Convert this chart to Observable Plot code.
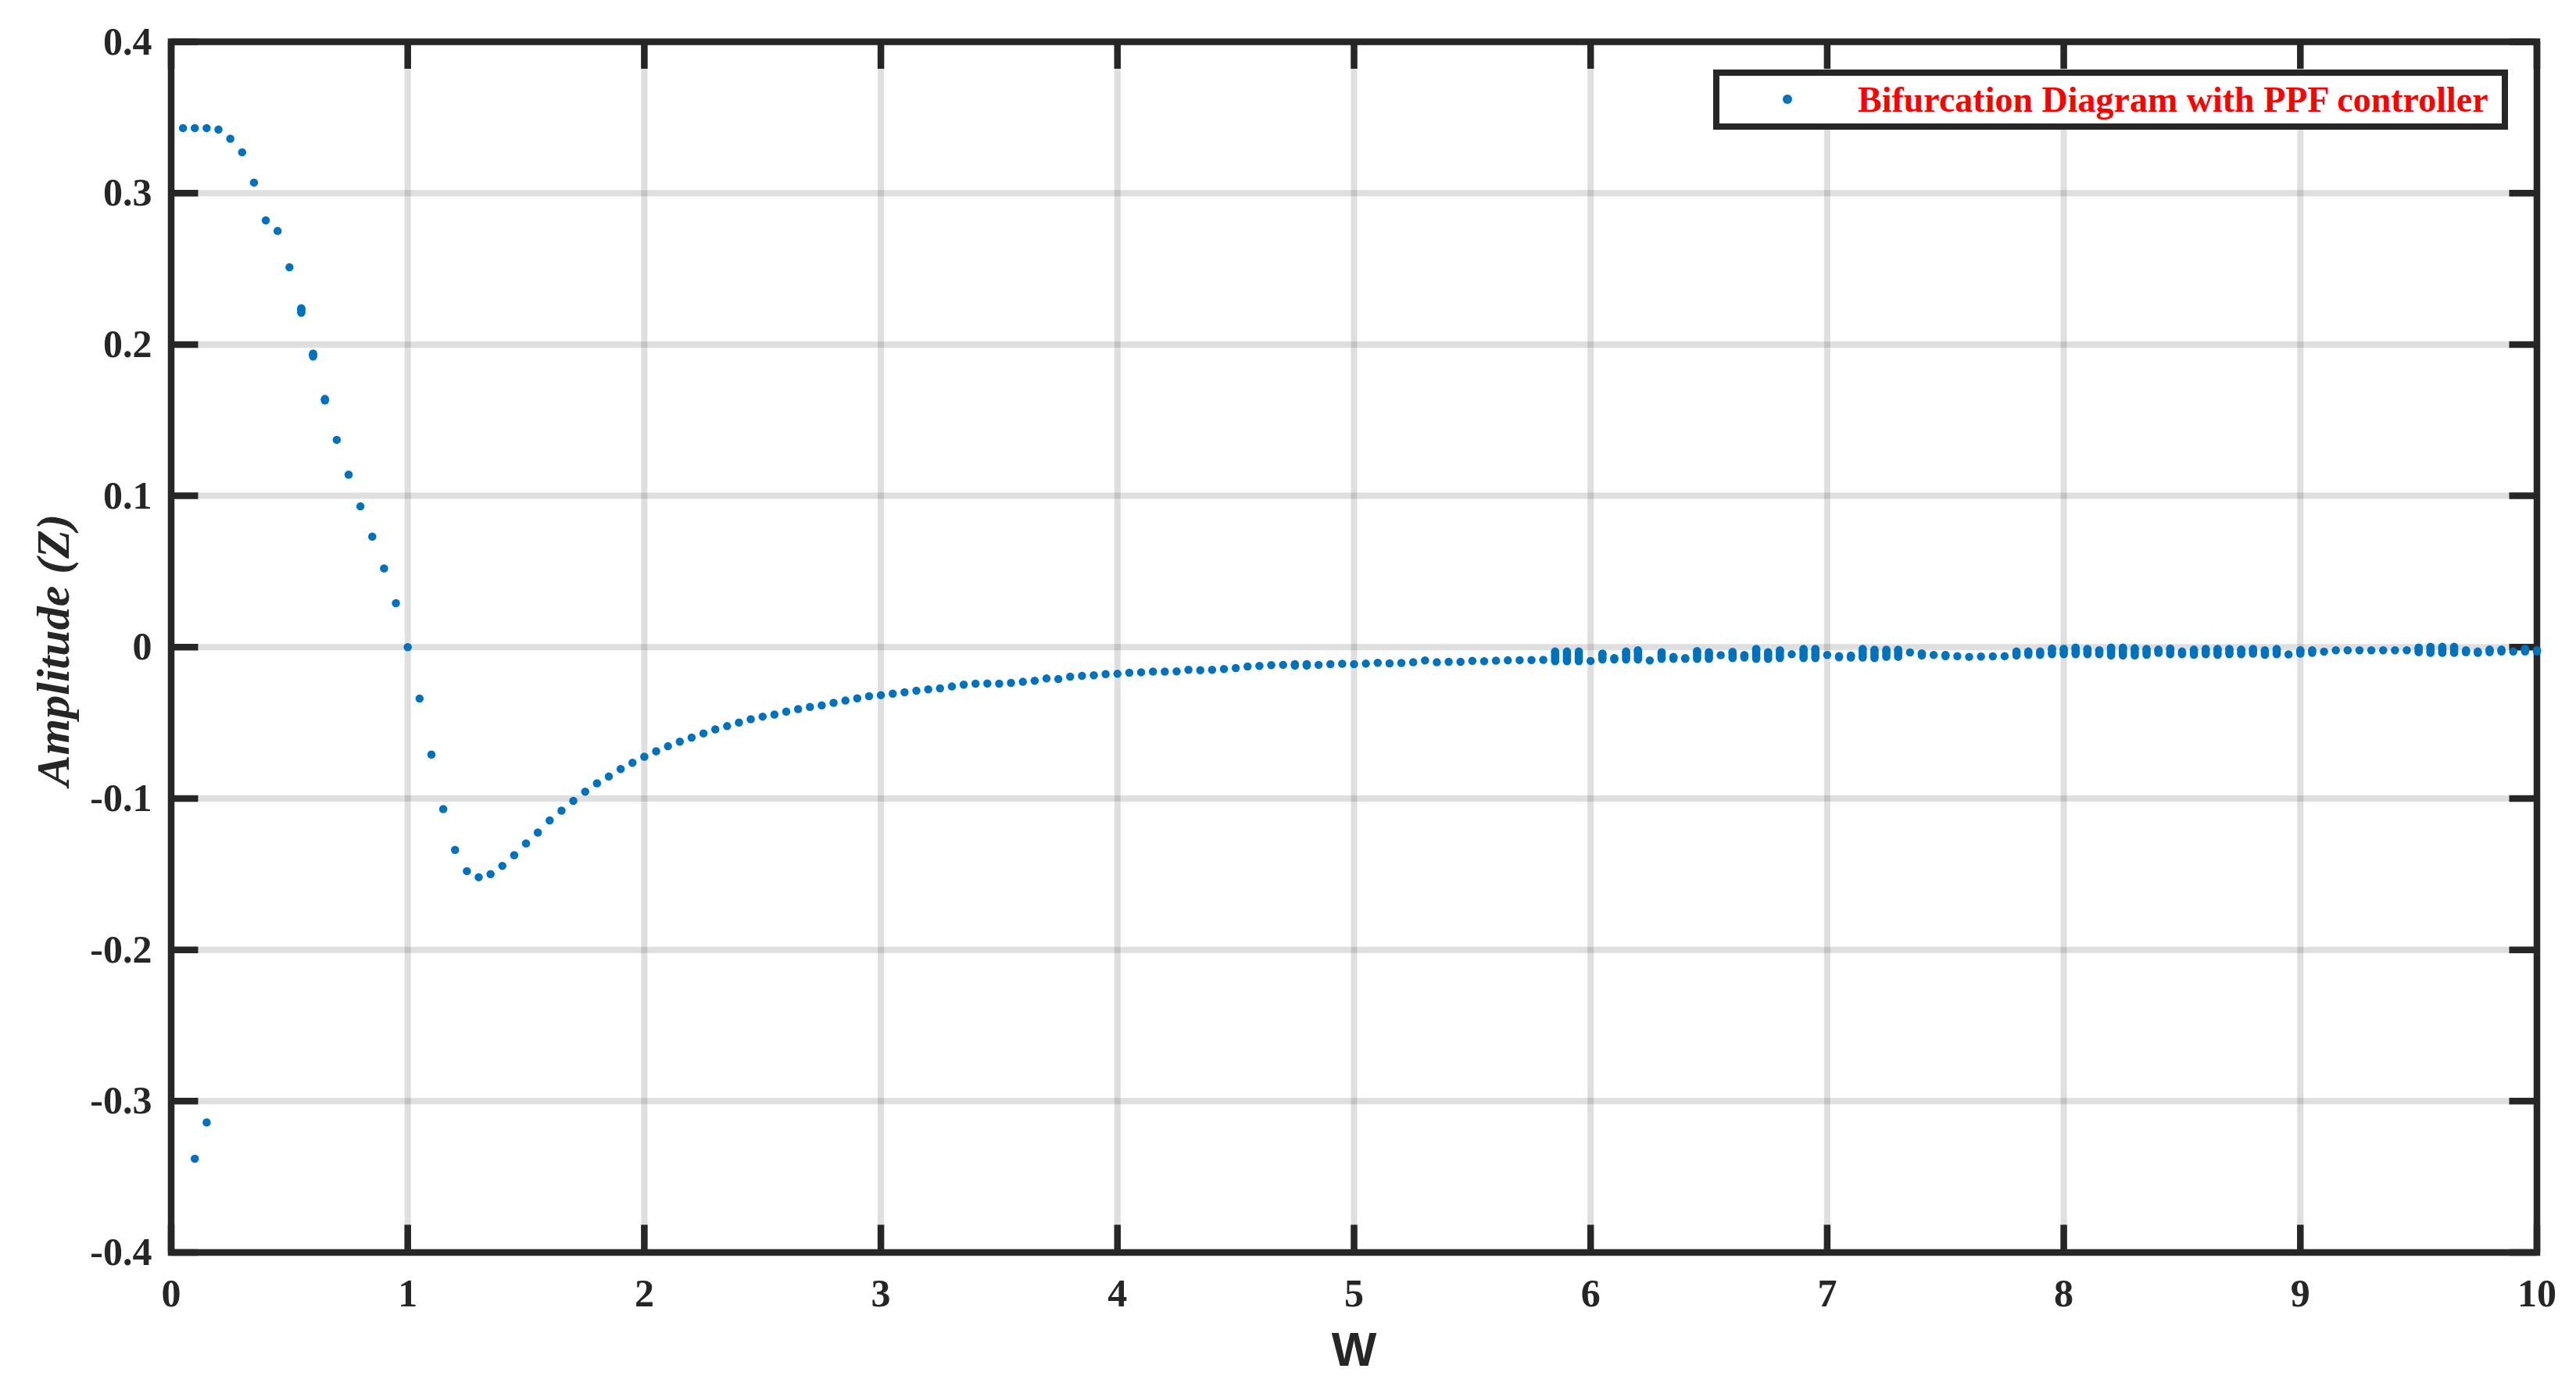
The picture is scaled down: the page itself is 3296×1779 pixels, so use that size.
<!DOCTYPE html>
<html>
<head>
<meta charset="utf-8">
<script src="https://cdn.jsdelivr.net/npm/d3@7"></script>
<script src="https://cdn.jsdelivr.net/npm/@observablehq/plot@0.6"></script>
<style>
html, body { margin: 0; padding: 0; background: #ffffff; }
#wrap { position: relative; width: 3296px; height: 1779px; overflow: hidden; background: #ffffff; }
#legend { position: absolute; left: 2192px; top: 89px; width: 1017px; height: 77px; box-sizing: border-box; border: 8px solid #262626; background: #ffffff; }
#legend .dot { position: absolute; left: 81px; top: 24px; width: 12px; height: 12px; border-radius: 50%; background: #0072BD; }
#legend .lab { position: absolute; left: 177px; top: 8px; font: bold 46px "Liberation Serif", "Times New Roman", serif; line-height: 1; color: #ff0000; white-space: nowrap; }
</style>
</head>
<body>
<div id="wrap">
  <div id="chart"></div>
  <div id="legend"><span class="dot"></span><span class="lab" id="legendLabel"></span></div>
</div>
<script>
// ---------------- data ----------------
const xTicks = [0, 1, 2, 3, 4, 5, 6, 7, 8, 9, 10];
const xTickLabels = ["0", "1", "2", "3", "4", "5", "6", "7", "8", "9", "10"];
const yTicks = [-0.4, -0.3, -0.2, -0.1, 0, 0.1, 0.2, 0.3, 0.4];
const yTickLabels = ["-0.4", "-0.3", "-0.2", "-0.1", "0", "0.1", "0.2", "0.3", "0.4"];

const xLabel = "W";
const yLabel = "Amplitude (Z)";
const legendLabel = "Bifurcation Diagram with PPF controller";

// excitation frequency W
const omega = [
  0.05, 0.10, 0.15, 0.20, 0.25, 0.30, 0.35, 0.40, 0.45, 0.50,
  0.55, 0.60, 0.65, 0.70, 0.75, 0.80, 0.85, 0.90, 0.95, 1.00,
  1.05, 1.10, 1.15, 1.20, 1.25, 1.30, 1.35, 1.40, 1.45, 1.50,
  1.55, 1.60, 1.65, 1.70, 1.75, 1.80, 1.85, 1.90, 1.95, 2.00,
  2.05, 2.10, 2.15, 2.20, 2.25, 2.30, 2.35, 2.40, 2.45, 2.50,
  2.55, 2.60, 2.65, 2.70, 2.75, 2.80, 2.85, 2.90, 2.95, 3.00,
  3.05, 3.10, 3.15, 3.20, 3.25, 3.30, 3.35, 3.40, 3.45, 3.50,
  3.55, 3.60, 3.65, 3.70, 3.75, 3.80, 3.85, 3.90, 3.95, 4.00,
  4.05, 4.10, 4.15, 4.20, 4.25, 4.30, 4.35, 4.40, 4.45, 4.50,
  4.55, 4.60, 4.65, 4.70, 4.75, 4.80, 4.85, 4.90, 4.95, 5.00,
  5.05, 5.10, 5.15, 5.20, 5.25, 5.30, 5.35, 5.40, 5.45, 5.50,
  5.55, 5.60, 5.65, 5.70, 5.75, 5.80, 5.85, 5.90, 5.95, 6.00,
  6.05, 6.10, 6.15, 6.20, 6.25, 6.30, 6.35, 6.40, 6.45, 6.50,
  6.55, 6.60, 6.65, 6.70, 6.75, 6.80, 6.85, 6.90, 6.95, 7.00,
  7.05, 7.10, 7.15, 7.20, 7.25, 7.30, 7.35, 7.40, 7.45, 7.50,
  7.55, 7.60, 7.65, 7.70, 7.75, 7.80, 7.85, 7.90, 7.95, 8.00,
  8.05, 8.10, 8.15, 8.20, 8.25, 8.30, 8.35, 8.40, 8.45, 8.50,
  8.55, 8.60, 8.65, 8.70, 8.75, 8.80, 8.85, 8.90, 8.95, 9.00,
  9.05, 9.10, 9.15, 9.20, 9.25, 9.30, 9.35, 9.40, 9.45, 9.50,
  9.55, 9.60, 9.65, 9.70, 9.75, 9.80, 9.85, 9.90, 9.95, 10.00
];

// upper value of the amplitude samples at each W
const zUpper = [
  0.343, 0.343, 0.343, 0.342, 0.336, 0.327, 0.307, 0.282, 0.275, 0.251,
  0.224, 0.194, 0.164, 0.137, 0.114, 0.093, 0.073, 0.052, 0.029, 0.000,
  -0.034, -0.071, -0.107, -0.134, -0.148, -0.152, -0.150, -0.1445, -0.1375, -0.1297,
  -0.1225, -0.1145, -0.108, -0.1016, -0.0955, -0.090, -0.0855, -0.0805, -0.0764, -0.0724,
  -0.0688, -0.0655, -0.0625, -0.0598, -0.057, -0.0543, -0.0522, -0.0498, -0.0476, -0.0459,
  -0.0445, -0.0426, -0.0409, -0.0395, -0.0385, -0.0368, -0.0353, -0.0338, -0.0324, -0.0317,
  -0.0307, -0.0298, -0.0288, -0.0279, -0.0272, -0.026, -0.0248, -0.0241, -0.024, -0.0241,
  -0.0236, -0.0229, -0.0222, -0.0207, -0.0211, -0.0195, -0.019, -0.0186, -0.0178, -0.0176,
  -0.0169, -0.0166, -0.0161, -0.0161, -0.016, -0.015, -0.0152, -0.015, -0.0145, -0.0138,
  -0.0128, -0.0124, -0.0119, -0.0117, -0.0112, -0.0112, -0.0117, -0.0112, -0.011, -0.0112,
  -0.0109, -0.0103, -0.0107, -0.0105, -0.010, -0.0088, -0.010, -0.0097, -0.0097, -0.009,
  -0.0093, -0.0089, -0.0087, -0.0086, -0.0085, -0.0084, -0.0029, -0.0029, -0.0029, -0.0091,
  -0.0043, -0.0072, -0.0029, -0.0021, -0.0088, -0.0033, -0.0064, -0.0072, -0.0026, -0.0034,
  -0.0053, -0.0031, -0.0052, -0.0012, -0.0033, -0.0021, -0.0047, -0.0012, -0.0012, -0.0052,
  -0.0059, -0.0055, -0.0012, -0.0017, -0.0017, -0.0017, -0.0035, -0.0041, -0.0052, -0.0052,
  -0.006, -0.0064, -0.0062, -0.0061, -0.006, -0.0029, -0.0029, -0.0029, -0.0009, -0.0012,
  -0.0003, -0.0012, -0.0021, -0.0003, -0.0003, -0.0007, -0.0012, -0.0016, -0.0009, -0.0029,
  -0.0016, -0.0012, -0.0012, -0.0012, -0.0016, -0.0012, -0.0021, -0.0012, -0.0048, -0.0021,
  -0.0021, -0.003, -0.0021, -0.0021, -0.0021, -0.0021, -0.0021, -0.0021, -0.0021, -0.0003,
  0.0002, 0.0002, 0.0002, -0.0021, -0.0029, -0.0016, -0.0016, -0.0029, -0.0012, -0.0021
];

// lower value of the amplitude samples at each W
const zLower = [
  0.343, 0.343, 0.343, 0.342, 0.336, 0.327, 0.307, 0.282, 0.275, 0.251,
  0.221, 0.192, 0.163, 0.137, 0.114, 0.093, 0.073, 0.052, 0.029, 0.000,
  -0.034, -0.071, -0.107, -0.134, -0.148, -0.152, -0.150, -0.1445, -0.1375, -0.1297,
  -0.1225, -0.1145, -0.108, -0.1016, -0.0955, -0.090, -0.0855, -0.0805, -0.0764, -0.0724,
  -0.0688, -0.0655, -0.0625, -0.0598, -0.057, -0.0543, -0.0522, -0.0498, -0.0476, -0.0459,
  -0.0445, -0.0426, -0.0409, -0.0395, -0.0385, -0.0368, -0.0353, -0.0338, -0.0324, -0.0317,
  -0.0307, -0.0298, -0.0288, -0.0279, -0.0272, -0.026, -0.0248, -0.0241, -0.024, -0.0241,
  -0.0236, -0.0229, -0.0222, -0.0207, -0.0211, -0.0195, -0.019, -0.0186, -0.0178, -0.0176,
  -0.0169, -0.0166, -0.0161, -0.0161, -0.016, -0.015, -0.0152, -0.015, -0.0145, -0.0138,
  -0.0128, -0.0124, -0.0119, -0.0117, -0.0122, -0.0122, -0.0117, -0.0112, -0.011, -0.0112,
  -0.0109, -0.0103, -0.0107, -0.0105, -0.010, -0.0088, -0.010, -0.0097, -0.0097, -0.009,
  -0.0093, -0.0089, -0.0087, -0.0086, -0.0085, -0.0084, -0.0093, -0.0093, -0.0093, -0.0091,
  -0.0081, -0.0081, -0.0081, -0.0081, -0.0088, -0.0078, -0.0078, -0.0078, -0.0078, -0.0078,
  -0.0053, -0.0072, -0.0069, -0.0078, -0.0078, -0.0072, -0.0047, -0.0072, -0.0072, -0.0052,
  -0.0067, -0.0069, -0.0069, -0.0072, -0.0064, -0.0064, -0.0035, -0.0055, -0.0052, -0.006,
  -0.006, -0.0064, -0.0062, -0.0061, -0.006, -0.0055, -0.005, -0.005, -0.0047, -0.0047,
  -0.0047, -0.0047, -0.0047, -0.0055, -0.0055, -0.0055, -0.005, -0.0038, -0.0047, -0.0047,
  -0.005, -0.0047, -0.005, -0.0047, -0.0047, -0.0043, -0.005, -0.0047, -0.0048, -0.0043,
  -0.0038, -0.003, -0.0021, -0.0021, -0.0021, -0.0021, -0.0021, -0.0021, -0.0021, -0.0033,
  -0.0038, -0.0038, -0.0038, -0.0034, -0.0038, -0.0033, -0.0029, -0.0029, -0.0029, -0.0029
];

// second (negative) branch at low W
const omegaBranch = [0.10, 0.15];
const zBranch = [-0.338, -0.314];

// ---------------- chart ----------------
const blue = "#0072BD";
const ink = "#262626";
const width = 3296, height = 1779;
const marginLeft = 218.5, marginRight = 50.5, marginTop = 53, marginBottom = 176.5;
const innerW = width - marginLeft - marginRight;
const innerH = height - marginTop - marginBottom;
const tickLen = 35;

const rows = omega.map((w, i) => ({w, hi: zUpper[i], lo: zLower[i]}));
const points = rows.flatMap(d => d.hi === d.lo ? [{w: d.w, z: d.hi}] : [{w: d.w, z: d.hi}, {w: d.w, z: d.lo}])
  .concat(omegaBranch.map((w, i) => ({w, z: zBranch[i]})));
const spans = rows.filter(d => d.hi !== d.lo);

const chart = Plot.plot({
  width, height, marginLeft, marginRight, marginTop, marginBottom,
  x: {domain: [0, 10]},
  y: {domain: [-0.4, 0.4]},
  style: {fontFamily: '"Liberation Serif", "Times New Roman", serif', fontWeight: "bold", color: ink, background: "#ffffff", overflow: "visible"},
  marks: [
    Plot.gridX(xTicks, {stroke: ink, strokeOpacity: 0.15, strokeWidth: 8}),
    Plot.gridY(yTicks, {stroke: ink, strokeOpacity: 0.15, strokeWidth: 8}),
    Plot.tickX(xTicks, {x: d => d, insetTop: innerH - tickLen, stroke: ink, strokeWidth: 8.5}),
    Plot.tickX(xTicks, {x: d => d, insetBottom: innerH - tickLen, stroke: ink, strokeWidth: 8.5}),
    Plot.tickY(yTicks, {y: d => d, insetRight: innerW - tickLen, stroke: ink, strokeWidth: 8.5}),
    Plot.tickY(yTicks, {y: d => d, insetLeft: innerW - tickLen, stroke: ink, strokeWidth: 8.5}),
    Plot.frame({stroke: ink, strokeWidth: 8.5}),
    Plot.axisX(xTicks, {tickSize: 0, tickPadding: 33, fontSize: 50, fontWeight: "bold", fill: ink,
      tickFormat: d => xTickLabels[xTicks.indexOf(d)], label: null}),
    Plot.axisY(yTicks, {tickSize: 0, tickPadding: 24.5, fontSize: 50, fontWeight: "bold", fill: ink,
      tickFormat: d => yTickLabels[yTicks.indexOf(d)], label: null}),
    Plot.ruleX(spans, {x: "w", y1: "lo", y2: "hi", stroke: blue, strokeWidth: 10.5}),
    Plot.dot(points, {x: "w", y: "z", r: 5.25, fill: blue, stroke: null}),
    Plot.text([xLabel], {text: d => d, frameAnchor: "bottom", lineAnchor: "bottom", dy: 144.5,
      fontFamily: '"Liberation Sans", Arial, sans-serif', fontSize: 61, fontWeight: "bold", fill: ink}),
    Plot.text([yLabel], {text: d => d, frameAnchor: "left", textAnchor: "middle", lineAnchor: "bottom", rotate: -90, dx: -131.5, dy: 4,
      fontFamily: '"Liberation Serif", "Times New Roman", serif', fontStyle: "italic", fontSize: 60, fontWeight: "bold", fill: ink})
  ]
});

document.getElementById("chart").appendChild(chart);
document.getElementById("legendLabel").textContent = legendLabel;
</script>
</body>
</html>
